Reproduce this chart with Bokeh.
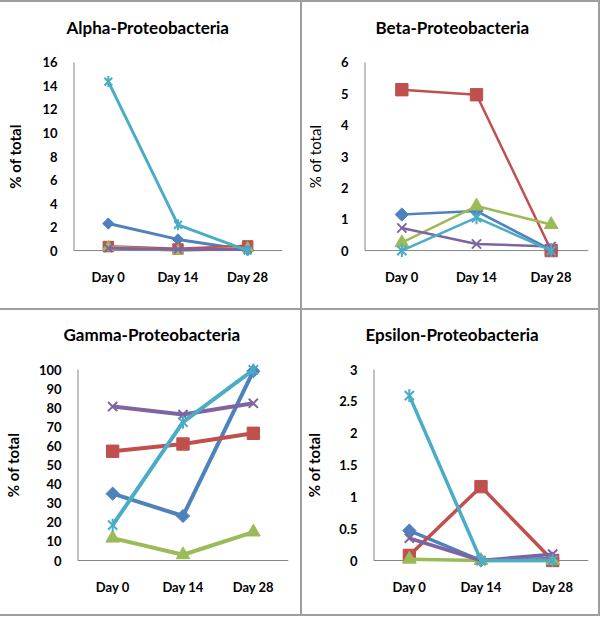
import numpy as np
from bokeh.plotting import figure
from bokeh.models import FactorRange, Range1d, FixedTicker, NumeralTickFormatter, Div, Title
from bokeh.layouts import row, column
from bokeh.embed import file_html
from bokeh.resources import INLINE

days = ["Day 0", "Day 14", "Day 28"]

# Alpha-Proteobacteria (% of total)
alpha_blue = [2.3, 0.95, 0.05]
alpha_red = [0.34, 0.14, 0.4]
alpha_green = [0.3, 0.0, 0.2]
alpha_purple = [0.2, 0.1, 0.1]
alpha_cyan = [14.37, 2.19, 0.0]
alpha_ticks = [0, 2, 4, 6, 8, 10, 12, 14, 16]

# Beta-Proteobacteria
beta_blue = [1.15, 1.26, 0.02]
beta_red = [5.13, 4.97, 0.0]
beta_green = [0.25, 1.42, 0.83]
beta_purple = [0.72, 0.21, 0.13]
beta_cyan = [0.0, 1.05, 0.0]
beta_ticks = [0, 1, 2, 3, 4, 5, 6]

# Gamma-Proteobacteria
gamma_blue = [35.0, 23.3, 99.1]
gamma_red = [57.2, 61.0, 66.6]
gamma_green = [11.7, 3.0, 14.9]
gamma_purple = [80.6, 76.4, 82.3]
gamma_cyan = [18.5, 72.4, 99.8]
gamma_ticks = [0, 10, 20, 30, 40, 50, 60, 70, 80, 90, 100]

# Epsilon-Proteobacteria
eps_blue = [0.47, 0.0, 0.03]
eps_red = [0.08, 1.16, 0.0]
eps_green = [0.02, 0.0, 0.0]
eps_purple = [0.35, 0.0, 0.1]
eps_cyan = [2.59, 0.0, 0.0]
eps_ticks = [0, 0.5, 1, 1.5, 2, 2.5, 3]

BLUE, RED, GREEN, PURPLE, CYAN = "#4F81BD", "#C0504D", "#9BBB59", "#8064A2", "#4BACC6"
AXIS = "#868686"
SEP = "#9E9E9E"
FONT = "Lato"
PAD = 8  # px of extra frame below 0 and above max so markers are not clipped


def make_panel(title, series, ticks, W, H, L, R, T, B, t_off, lw, msz,
               label_bold=True, lab_standoff=14, gap=8):
    ymax = ticks[-1]
    u = ymax / float(B - T)
    p = figure(width=W, height=H, output_backend="svg", toolbar_location=None,
               x_range=FactorRange(factors=days),
               y_range=Range1d(-PAD * u, ymax + PAD * u))
    p.min_border_left = L
    p.min_border_right = W - R
    p.min_border_top = T - PAD
    p.min_border_bottom = H - (B + PAD)
    p.outline_line_color = None
    p.background_fill_color = "white"
    p.border_fill_color = "white"
    p.xgrid.visible = False
    p.ygrid.visible = False

    # invisible spacer between the title and the plot area
    p.add_layout(Title(text=" ", text_font_size="2px", standoff=gap), "above")

    p.title.text = title
    p.title.text_font = FONT
    p.title.text_font_size = "17px"
    p.title.text_font_style = "bold"
    p.title.text_color = "black"
    p.title.align = "left"
    p.title.offset = t_off

    for ax in (p.xaxis[0], p.yaxis[0]):
        ax.axis_line_color = None
        ax.major_tick_line_color = None
        ax.minor_tick_line_color = None
        ax.major_tick_in = 0
        ax.major_tick_out = 0
        ax.major_label_text_font = FONT
        ax.major_label_text_font_size = "13px"
        ax.major_label_text_font_style = "bold"
        ax.major_label_text_color = "black"
    p.xaxis.major_label_standoff = 10
    p.yaxis.major_label_standoff = 16
    p.yaxis.ticker = FixedTicker(ticks=ticks)
    p.yaxis.formatter = NumeralTickFormatter(format="0.[0]")
    p.yaxis.axis_label = "% of total"
    p.yaxis.axis_label_text_font = FONT
    p.yaxis.axis_label_text_font_size = "15px"
    p.yaxis.axis_label_text_font_style = "bold" if label_bold else "normal"
    p.yaxis.axis_label_text_color = "black"
    p.yaxis.axis_label_standoff = lab_standoff

    # axis lines drawn at the data zero / left edge
    p.segment(x0=[0], y0=[0], x1=[3], y1=[0], line_color=AXIS, line_width=1)
    p.segment(x0=[0], y0=[0], x1=[0], y1=[ymax], line_color=AXIS, line_width=2)

    blue, red, green, purple, cyan = series
    p.line(days, blue, line_color=BLUE, line_width=lw)
    p.scatter(days, blue, marker="square", angle=np.pi / 4, size=msz * 0.72,
              fill_color=BLUE, line_color=BLUE)
    p.line(days, red, line_color=RED, line_width=lw)
    p.scatter(days, red, marker="square", size=msz * 0.95, fill_color=RED, line_color=RED)
    p.line(days, green, line_color=GREEN, line_width=lw)
    p.scatter(days, green, marker="triangle", size=msz * 1.05, fill_color=GREEN, line_color=GREEN)
    p.line(days, purple, line_color=PURPLE, line_width=lw)
    p.scatter(days, purple, marker="x", size=msz, line_color=PURPLE, line_width=2)
    p.line(days, cyan, line_color=CYAN, line_width=lw)
    p.scatter(days, cyan, marker="x", size=msz, line_color=CYAN, line_width=2)
    p.scatter(days, cyan, marker="dash", angle=np.pi / 2, size=msz, line_color=CYAN, line_width=2)
    return p


p1 = make_panel("Alpha-Proteobacteria",
                [alpha_blue, alpha_red, alpha_green, alpha_purple, alpha_cyan],
                alpha_ticks, 300, 306, 73, 282, 58, 248, -7, 3.0, 11, True, 15)
p2 = make_panel("Beta-Proteobacteria",
                [beta_blue, beta_red, beta_green, beta_purple, beta_cyan],
                beta_ticks, 296, 306, 61, 286, 60, 250, 11, 2.5, 13, False, 14)
p3 = make_panel("Gamma-Proteobacteria",
                [gamma_blue, gamma_red, gamma_green, gamma_purple, gamma_cyan],
                gamma_ticks, 300, 304, 73, 288, 59, 250, -14, 4.0, 13, True, 14)
p4 = make_panel("Epsilon-Proteobacteria",
                [eps_blue, eps_red, eps_green, eps_purple, eps_cyan],
                eps_ticks, 296, 304, 71, 286, 59, 250, -8, 3.5, 13, True, 13)


def hsep():
    return Div(text="", width=600, height=2, margin=(0, 0, 0, 0),
               styles={"background-color": SEP})


def vsep(h):
    return Div(text="", width=2, height=h, margin=(0, 0, 0, 0),
               styles={"background-color": SEP})


layout = column(hsep(), row(p1, vsep(306), p2, vsep(306)), hsep(),
                row(p3, vsep(304), p4, vsep(304)), hsep())

open("out.html", "w").write(file_html(layout, INLINE))
